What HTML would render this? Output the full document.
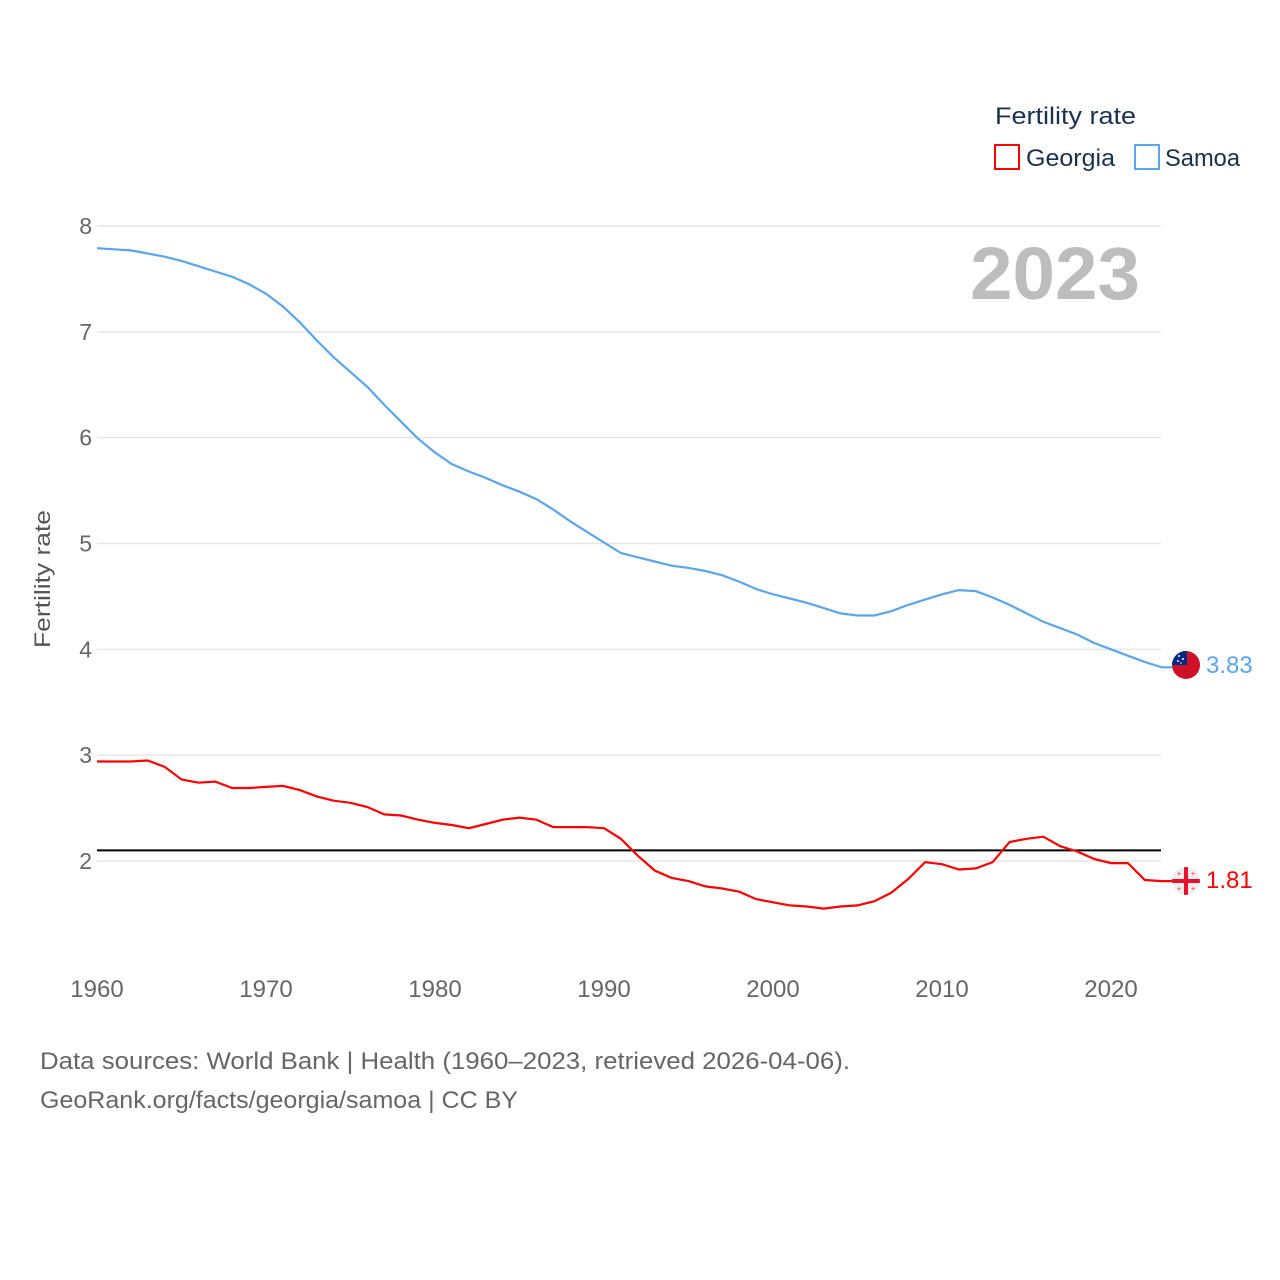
<!DOCTYPE html>
<html><head><meta charset="utf-8"><style>
html,body{margin:0;padding:0;background:#fff;width:1280px;height:1280px;overflow:hidden}
svg text{font-family:"Liberation Sans",sans-serif}
</style></head><body>
<svg id="chart" width="1280" height="1280" viewBox="0 0 1280 1280" xmlns="http://www.w3.org/2000/svg">
<defs>
<clipPath id="cs"><circle cx="1186" cy="665" r="14"/></clipPath>
<clipPath id="cg"><circle cx="1186" cy="881" r="14"/></clipPath>
</defs>
<g id="grid"></g>
<g id="yticks"></g>
<g id="xticks"></g>
<text x="50" y="579" transform="rotate(-90 50 579)" text-anchor="middle" font-size="22" fill="#555" textLength="138" lengthAdjust="spacingAndGlyphs">Fertility rate</text>
<text x="970" y="299" font-size="74" font-weight="bold" fill="#bdbdbd" textLength="170" lengthAdjust="spacingAndGlyphs">2023</text>
<line id="refline" x1="97" x2="1161" stroke="#000" stroke-width="2"/>
<path id="samoa-line" fill="none" stroke="#5aa5ec" stroke-width="2.2"/>
<path id="georgia-line" fill="none" stroke="#ff0000" stroke-width="2.2"/>
<g clip-path="url(#cs)">
<rect x="1172" y="651" width="28" height="28" fill="#ce1126"/>
<rect x="1172" y="651" width="15" height="14" fill="#002b7f"/>
<circle cx="1179" cy="656" r="1" fill="#fff"/><circle cx="1183" cy="659" r="1" fill="#fff"/><circle cx="1178" cy="661" r="1" fill="#fff"/><circle cx="1181" cy="663" r="0.8" fill="#fff"/>
</g>
<g clip-path="url(#cg)">
<rect x="1172" y="867" width="28" height="28" fill="#eee"/>
<rect x="1172" y="879" width="28" height="4" fill="#e8112d"/>
<rect x="1184" y="867" width="4" height="28" fill="#e8112d"/>
<text x="1179" y="876" font-size="7" fill="#e8112d" text-anchor="middle">+</text><text x="1193" y="876" font-size="7" fill="#e8112d" text-anchor="middle">+</text>
<text x="1179" y="891" font-size="7" fill="#e8112d" text-anchor="middle">+</text><text x="1193" y="891" font-size="7" fill="#e8112d" text-anchor="middle">+</text>
</g>
<text id="samoa-val" x="1206" y="673" font-size="24" fill="#5aa5ec">3.83</text>
<text id="georgia-val" x="1206" y="888" font-size="24" fill="#ff0000">1.81</text>
<text x="995" y="124" font-size="24" fill="#1b3050" textLength="141" lengthAdjust="spacingAndGlyphs">Fertility rate</text>
<g>
<rect x="995" y="145" width="24" height="24" fill="none" stroke="#ff0000" stroke-width="2"/>
<text x="1026" y="166" font-size="24" fill="#1b3050" textLength="89" lengthAdjust="spacingAndGlyphs">Georgia</text></g>
<g>
<rect x="1135" y="145" width="24" height="24" fill="none" stroke="#5aa5ec" stroke-width="2"/>
<text x="1165" y="166" font-size="24" fill="#1b3050" textLength="75" lengthAdjust="spacingAndGlyphs">Samoa</text></g>
<text x="40" y="1069" font-size="24" fill="#666" textLength="810" lengthAdjust="spacingAndGlyphs">Data sources: World Bank | Health (1960–2023, retrieved 2026-04-06).</text>
<text x="40" y="1108" font-size="24" fill="#666" textLength="478" lengthAdjust="spacingAndGlyphs">GeoRank.org/facts/georgia/samoa | CC BY</text>
</svg>
<script>
const years=[];for(let y=1960;y<=2023;y++)years.push(y);
const georgia=[2.94,2.94,2.94,2.95,2.89,2.77,2.74,2.75,2.69,2.69,2.70,2.71,2.67,2.61,2.57,2.55,2.51,2.44,2.43,2.39,2.36,2.34,2.31,2.35,2.39,2.41,2.39,2.32,2.32,2.32,2.31,2.21,2.05,1.91,1.84,1.81,1.76,1.74,1.71,1.64,1.61,1.58,1.57,1.55,1.57,1.58,1.62,1.70,1.83,1.99,1.97,1.92,1.93,1.99,2.18,2.21,2.23,2.14,2.09,2.02,1.98,1.98,1.82,1.81];
const samoa=[7.79,7.78,7.77,7.74,7.71,7.67,7.62,7.57,7.52,7.45,7.36,7.24,7.09,6.92,6.76,6.62,6.48,6.31,6.15,5.99,5.86,5.75,5.68,5.62,5.55,5.49,5.42,5.32,5.21,5.11,5.01,4.91,4.87,4.83,4.79,4.77,4.74,4.70,4.64,4.57,4.52,4.48,4.44,4.39,4.34,4.32,4.32,4.36,4.42,4.47,4.52,4.56,4.55,4.49,4.42,4.34,4.26,4.20,4.14,4.06,4.00,3.94,3.88,3.83];
const yTicks=[2,3,4,5,6,7,8];
const xTicks=[1960,1970,1980,1990,2000,2010,2020];
const replacement=2.1;
const X=y=>97+(y-1960)*(1111-97)/60;
const Y=v=>861-(v-2)*105.83;
const NS="http://www.w3.org/2000/svg";
const grid=document.getElementById('grid'),yt=document.getElementById('yticks'),xt=document.getElementById('xticks');
yTicks.forEach(t=>{
 const l=document.createElementNS(NS,'line');
 l.setAttribute('x1',97);l.setAttribute('x2',1161);l.setAttribute('y1',Y(t));l.setAttribute('y2',Y(t));
 l.setAttribute('stroke','#e6e6e6');l.setAttribute('stroke-width','1.5');
 
 
 grid.appendChild(l);
 const tx=document.createElementNS(NS,'text');
 tx.setAttribute('x',92);tx.setAttribute('y',Y(t)+8);tx.setAttribute('text-anchor','end');
 tx.setAttribute('font-size','23');tx.setAttribute('fill','#666');tx.textContent=t;
 
 
 yt.appendChild(tx);
});
xTicks.forEach(t=>{
 const tx=document.createElementNS(NS,'text');
 tx.setAttribute('x',X(t));tx.setAttribute('y',997);tx.setAttribute('text-anchor','middle');
 tx.setAttribute('font-size','24');tx.setAttribute('fill','#666');tx.textContent=t;
 
 
 xt.appendChild(tx);
});
const rl=document.getElementById('refline');rl.setAttribute('y1',Y(replacement));rl.setAttribute('y2',Y(replacement));
function path(arr){let d=arr.map((v,i)=>(i?'L':'M')+X(years[i]).toFixed(1)+' '+Y(v).toFixed(1)).join(' ');
 d+=' L1172 '+Y(arr[arr.length-1]).toFixed(1);return d;}
document.getElementById('samoa-line').setAttribute('d',path(samoa));
document.getElementById('georgia-line').setAttribute('d',path(georgia));
document.getElementById('samoa-val').textContent=samoa[samoa.length-1].toFixed(2);
document.getElementById('georgia-val').textContent=georgia[georgia.length-1].toFixed(2);
</script>
</body></html>
